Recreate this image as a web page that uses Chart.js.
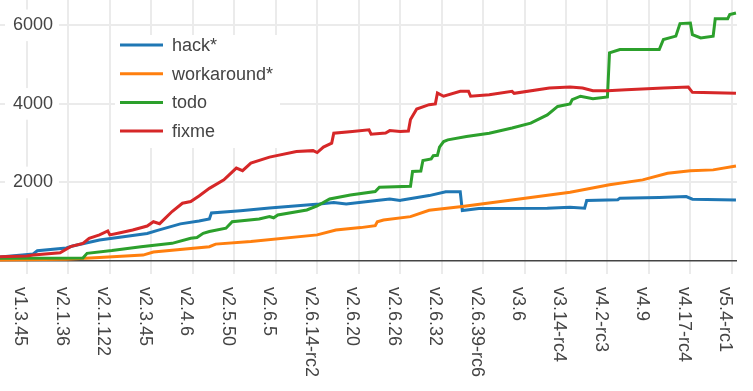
<!DOCTYPE html>
<html>
<head>
<meta charset="utf-8">
<script src="https://cdn.jsdelivr.net/npm/chart.js@4.4.0/dist/chart.umd.min.js"></script>
<style>
    html, body { margin: 0; padding: 0; background: #fff; }
    #wrap { width: 753px; height: 391px; }
</style>
</head>
<body>
<div id="wrap"><canvas id="kernelChart"></canvas></div>
<script>
// positions (tag index) of the labelled tags on the x axis
var tickIndex = [13, 33, 53, 73, 93, 113, 133, 153, 173, 193, 213, 233, 253, 273, 293, 313, 333, 353];
var tickLabels = ['v1.3.45', 'v2.1.36', 'v2.1.122', 'v2.3.45', 'v2.4.6', 'v2.5.50', 'v2.6.5',
    'v2.6.14-rc2', 'v2.6.20', 'v2.6.26', 'v2.6.32', 'v2.6.39-rc6', 'v3.6', 'v3.14-rc4',
    'v4.2-rc3', 'v4.9', 'v4.17-rc4', 'v5.4-rc1'];
var yTicks = [0, 2000, 4000, 6000];

// [tag index, count]
var hack = [[0, 100], [16, 180], [18, 260], [32, 330], [35, 380], [48, 535], [71, 700], [76, 780],
    [87, 945], [96, 1020], [101, 1070], [102, 1225], [116, 1280], [130, 1350], [154, 1450],
    [161, 1490], [167, 1450], [188, 1580], [193, 1540], [194, 1555], [207, 1665], [215, 1760],
    [222, 1760], [223, 1285], [231, 1335], [264, 1340], [275, 1370], [282, 1345], [283, 1540],
    [298, 1560], [299, 1600], [318, 1615], [331, 1640], [334, 1575], [355, 1555]];

var workaround = [[0, 25], [32, 45], [48, 90], [69, 150], [74, 230], [101, 365], [104, 430],
    [121, 495], [153, 665], [162, 790], [174, 850], [181, 900], [182, 1000], [185, 1045],
    [198, 1130], [207, 1290], [223, 1385], [246, 1545], [275, 1750], [294, 1940], [310, 2065],
    [322, 2235], [333, 2300], [344, 2320], [355, 2420]];

var todo = [[0, 70], [40, 75], [42, 195], [54, 265], [68, 365], [83, 450], [92, 580], [95, 600],
    [98, 705], [101, 750], [109, 835], [112, 1000], [125, 1070], [130, 1130], [132, 1100],
    [134, 1170], [148, 1300], [153, 1400], [159, 1580], [169, 1680], [181, 1770], [183, 1880],
    [198, 1900], [199, 2280], [203, 2290], [204, 2560], [208, 2600], [209, 2680], [211, 2690],
    [212, 2900], [214, 3040], [216, 3085], [225, 3170],
    [236, 3255], [247, 3385], [256, 3510], [264, 3720], [269, 3935], [275, 4000], [276, 4110],
    [280, 4195], [286, 4130], [293, 4175], [294, 5300], [299, 5385], [318, 5385], [320, 5640],
    [326, 5725], [328, 6045], [333, 6060], [334, 5765], [338, 5680], [344, 5725], [345, 6165],
    [351, 6165], [352, 6275], [355, 6315]];

var fixme = [[0, 110], [13, 125], [16, 150], [29, 210], [34, 365], [40, 450], [43, 580], [48, 665],
    [52, 765], [53, 665], [58, 720], [64, 790], [71, 890], [74, 1000], [77, 950], [83, 1260],
    [88, 1470], [92, 1515], [96, 1655], [101, 1850], [108, 2065], [114, 2365], [117, 2300],
    [121, 2490], [130, 2645], [143, 2785], [151, 2810], [153, 2760], [156, 2900], [160, 3000],
    [161, 3255], [170, 3300], [178, 3340], [179, 3230], [186, 3260], [188, 3320], [193, 3300],
    [197, 3310], [198, 3600], [201, 3870], [207, 3980], [210, 4000], [211, 4275], [214, 4195],
    [222, 4320], [226, 4320], [227, 4195], [236, 4235], [247, 4320], [248, 4270], [265, 4405],
    [275, 4430], [281, 4405], [286, 4335], [293, 4335], [302, 4360], [320, 4405], [332, 4430],
    [334, 4295], [355, 4270]];

var FONT = '"Liberation Sans", Arial, sans-serif';

function toPoints(arr) {
    return arr.map(function(p) { return { x: p[0], y: p[1] }; });
}

function line(label, arr, color, order) {
    return {
        label: label,
        data: toPoints(arr),
        borderColor: color,
        backgroundColor: color,
        borderWidth: 3,
        pointRadius: 0,
        tension: 0,
        order: order
    };
}

// rotated tag names under the plot (clockwise, reading downwards)
var tagLabelsPlugin = {
    id: 'tagLabels',
    afterDraw: function(chart) {
        var ctx = chart.ctx;
        var xScale = chart.scales.x;
        var top = chart.chartArea.bottom + 13;
        ctx.save();
        ctx.font = '18px ' + FONT;
        ctx.fillStyle = '#444';
        ctx.textAlign = 'left';
        ctx.textBaseline = 'alphabetic';
        tickIndex.forEach(function(v, i) {
            var px = xScale.getPixelForValue(v);
            ctx.save();
            ctx.translate(px - 11.5, top);
            ctx.rotate(Math.PI / 2);
            ctx.fillText(tickLabels[i], 0, 0);
            ctx.restore();
        });
        ctx.restore();
    }
};

// legend box inside the plot
var boxLegendPlugin = {
    id: 'boxLegend',
    afterDraw: function(chart) {
        var ctx = chart.ctx;
        ctx.save();
        ctx.fillStyle = '#fff';
        ctx.fillRect(115, 35, 165, 113);
        ctx.font = '18px ' + FONT;
        ctx.textAlign = 'left';
        ctx.textBaseline = 'middle';
        chart.data.datasets.forEach(function(ds, i) {
            var y = 45 + i * 28.7;
            ctx.strokeStyle = ds.borderColor;
            ctx.lineWidth = 3;
            ctx.beginPath();
            ctx.moveTo(120, y);
            ctx.lineTo(163, y);
            ctx.stroke();
            ctx.fillStyle = '#444';
            ctx.fillText(ds.label, 172, y + 1);
        });
        ctx.restore();
    }
};

var ctx = document.getElementById('kernelChart').getContext('2d');
new Chart(ctx, {
    type: 'line',
    data: {
        datasets: [
            line('hack*', hack, '#1f77b4', 3),
            line('workaround*', workaround, '#ff7f0e', 2),
            line('todo', todo, '#2ca02c', 1),
            line('fixme', fixme, '#d62728', 0)
        ]
    },
    options: {
        responsive: true,
        maintainAspectRatio: false,
        animation: false,
        layout: { padding: { left: 0, top: 0, right: 16, bottom: 117 } },
        plugins: {
            legend: { display: false },
            tooltip: { enabled: false }
        },
        scales: {
            x: {
                type: 'linear',
                min: 0,
                max: 355.5,
                border: { display: false },
                grid: { color: '#ebebeb', lineWidth: 2, drawTicks: false },
                ticks: { display: false },
                afterBuildTicks: function(scale) {
                    scale.ticks = tickIndex.map(function(v) { return { value: v }; });
                },
                afterFit: function(scale) {
                    scale.height = 0;
                    scale.paddingLeft = 0;
                    scale.paddingRight = 0;
                }
            },
            y: {
                type: 'linear',
                min: -331,
                max: 6645,
                bounds: 'data',
                border: { display: false },
                grid: {
                    drawTicks: false,
                    color: function(c) { return c.tick && c.tick.value === 0 ? '#444' : '#ebebeb'; },
                    lineWidth: function(c) { return c.tick && c.tick.value === 0 ? 1.5 : 2; }
                },
                ticks: {
                    mirror: true,
                    padding: 13,
                    color: '#444',
                    font: { family: FONT, size: 18 },
                    showLabelBackdrop: true,
                    backdropColor: function(c) { return c.tick && c.tick.value === 0 ? 'rgba(0,0,0,0)' : '#fff'; },
                    backdropPadding: { top: 5, bottom: 5, left: 8, right: 6 },
                    callback: function(v) { return v === 0 ? '' : String(v); }
                },
                afterBuildTicks: function(scale) {
                    scale.ticks = yTicks.map(function(v) { return { value: v }; });
                },
                afterFit: function(scale) {
                    scale.width = 0;
                    scale.paddingTop = 0;
                    scale.paddingBottom = 0;
                }
            }
        }
    },
    plugins: [tagLabelsPlugin, boxLegendPlugin]
});
</script>
</body>
</html>
